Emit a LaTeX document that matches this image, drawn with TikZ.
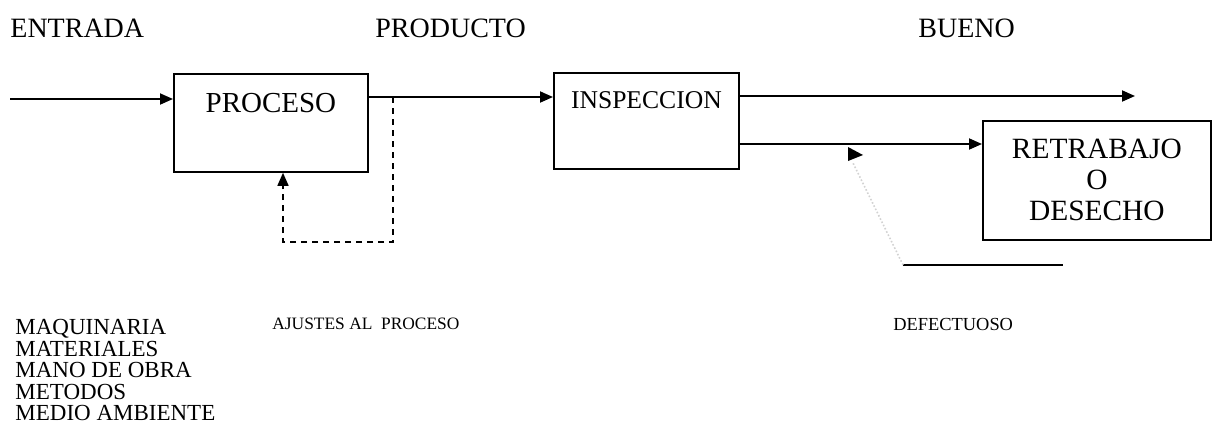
\documentclass[tikz,border=0pt]{standalone}
\usepackage{fontspec}
\setmainfont{Liberation Serif}
\usetikzlibrary{arrows.meta,positioning}
\tikzset{
  block/.style={draw, line width=0.9pt, anchor=north west, inner sep=0pt},
  tip/.style={-{Triangle[length=6.5pt,width=5.5pt]}},
  flow/.style={line width=0.9pt},
  lbl/.style={font=\fontsize{14}{15.5}\selectfont, inner sep=0pt},
  small/.style={font=\fontsize{9.2}{11}\selectfont, inner sep=0pt}
}
\begin{document}
\begin{tikzpicture}[x=0.5pt, y=-0.5pt]
        \useasboundingbox (0,0) rectangle (1213,429);
        % labels above
        \node (entrada) [lbl, anchor=west] at (10,28) {ENTRADA};
        \node (producto) [lbl, anchor=west] at (375,28) {PRODUCTO};
        \node (bueno) [lbl, anchor=west] at (918,28) {BUENO};

        % blocks
        \node (proceso) [block, minimum width=97pt, minimum height=49pt,
              label={[lbl, font=\fontsize{14.5}{16}\selectfont, below=10pt]north:PROCESO}] at (173,73) {};
        \node (inspeccion) [block, minimum width=92.5pt, minimum height=48pt,
              label={[lbl, font=\fontsize{12.8}{15}\selectfont, below=9.5pt]north:INSPECCION}] at (553,72) {};
        \node (retrabajo) [block, minimum width=114pt, minimum height=59.5pt,
              lbl, font=\fontsize{14.7}{15.5}\selectfont, draw, align=center] at (982,120) {RETRABAJO\\O\\DESECHO};

        % labels below
        \node (ajustes) [small, font=\fontsize{8.7}{10}\selectfont, anchor=west] at (272,324) {AJUSTES AL\ \ PROCESO};
        \node (defectuoso) [small, anchor=west] at (893,324) {DEFECTUOSO};
        \node (causas) [small, anchor=north west, align=left,
              font=\fontsize{11.5}{10.75}\selectfont] at (15,319)
              {MAQUINARIA\\MATERIALES\\MANO DE OBRA\\METODOS\\MEDIO AMBIENTE};

        % connectors
        \coordinate (in) at (10,99);
        \coordinate (pout) at (367,97);
        \coordinate (tap) at (393,97);
        \coordinate (bout) at (1135,96);
        \coordinate (iout) at (738,96);
        \coordinate (iout2) at (738,144);
        \coordinate (dcorner) at (903,265);
        \coordinate (dend) at (1063,265);
        \coordinate (dtip) at (853,163);

        \draw [flow, tip] (in) -- (proceso.west |- in);
        \draw [flow, tip] (pout) -- (inspeccion.west |- pout);
        \draw [line width=0.8pt, dash pattern=on 3pt off 2.5pt, tip]
              (tap) |- (283,242) -- (proceso.south -| 283,242);
        \draw [flow, tip] (iout) -- (bout);
        \draw [flow, tip] (iout2) -- (retrabajo.west |- iout2);

        \draw [line width=0.7pt] (dcorner) -- (dend);
        \draw [gray!35, densely dotted, line width=0.8pt] (dcorner) -- (dtip);
        \fill (848,147) -- (863,155) -- (848,161) -- cycle;
    \end{tikzpicture}
\end{document}
